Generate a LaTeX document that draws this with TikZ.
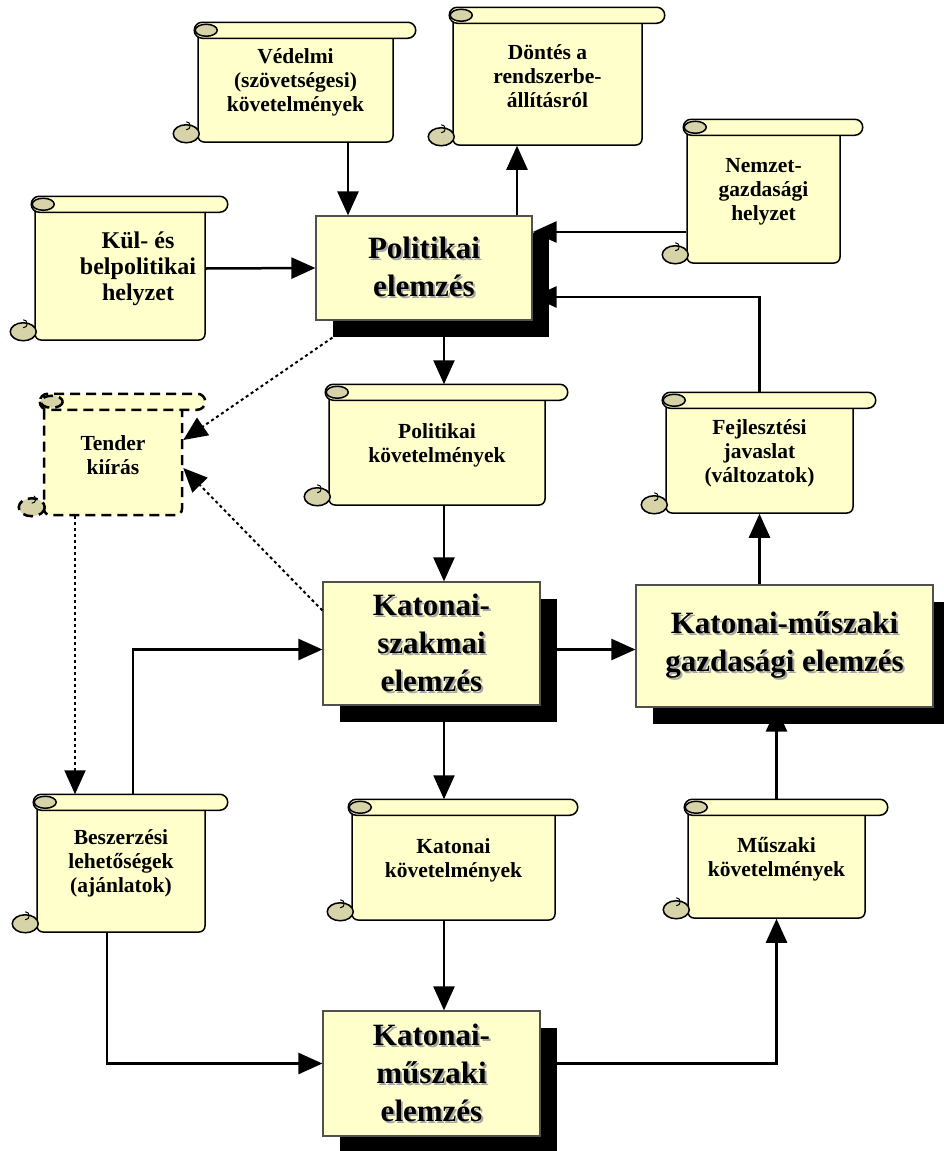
\documentclass[tikz,border=0pt]{standalone}
\usepackage{fontspec}
\setmainfont{Liberation Serif}
\usetikzlibrary{calc}
\usetikzlibrary{arrows.meta}
\usetikzlibrary{shadows}

\definecolor{paper}{RGB}{255,255,204}
\definecolor{curlfill}{RGB}{214,211,168}
\definecolor{boxline}{RGB}{80,80,80}

\tikzset{
	scroll/.style={
		draw=black, line width=1.5pt,
		fill=paper,
		rounded corners=6pt,
		inner sep=0pt, align=center,
		font=\fontsize{21.5}{24}\selectfont\bfseries},
	bigscroll/.style={font=\fontsize{24}{26}\selectfont\bfseries},
	scrollpart/.style={draw=black, line width=1.5pt},
	tenderline/.style={line width=2.5pt, dash pattern=on 10pt off 6pt},
	mainbox/.style={
		draw=boxline, line width=1.2pt,
		fill=paper,
		inner sep=0pt, align=center,
		font=\fontsize{31}{38}\selectfont\bfseries,
		drop shadow={shadow xshift=17pt, shadow yshift=-17pt, fill=black, opacity=1}},
	arr/.style={line width=2.5pt, -{Triangle[length=24pt, width=21pt]}},
	dotarr/.style={line width=2pt, dash pattern=on 3pt off 3pt, -{Triangle[length=24pt, width=21pt]}}
}

% shadowed title text
\newcommand{\shtxt}[1]{\makebox[0pt][l]{\hspace{2pt}\raisebox{-2pt}{\color{gray!70}#1}}#1}

% scroll: [style]{name}{left}{top}{right}{bottom}{text}
\newcommand{\scroll}[7][]{%
	\node[scroll, #1, minimum width={#5-#3}, minimum height={#6-#4}] (#2) at ({(#3+#5)/2},{(#4+#6)/2}) {#7};
	\draw[scrollpart, #1, fill=paper, rounded corners=8pt] ($(#2.north west)+(-3,0)$) rectangle ($(#2.north east)+(22,16)$);
	\draw[scrollpart, #1, fill=curlfill] ($(#2.north west)+(9,8)$) ellipse [x radius=11, y radius=6];
	\draw[scrollpart, #1, fill=curlfill] ($(#2.south west)+(-11,-9)$) ellipse [x radius=13, y radius=9];
	\draw[scrollpart, #1, line width=1pt] ($(#2.south west)+(-11,-13)$) arc [start angle=90, end angle=-90, radius=4];
}

\begin{document}
\begin{tikzpicture}[x=1pt, y=-1pt]
	\useasboundingbox (0,0) rectangle (943,1151);
	
	\coordinate (vedline) at (348,0);
	\coordinate (decline) at (517,0);
	\coordinate (midline) at (444,0);
	
	% analysis boxes
	\node[mainbox, minimum width=216, minimum height=104] (polit) at (424,268) {\shtxt{Politikai}\\\shtxt{elemzés}};
	\node[mainbox, minimum width=217, minimum height=123] (ksz) at (431.5,643.5) {\shtxt{Katonai-}\\\shtxt{szakmai}\\\shtxt{elemzés}};
	\node[mainbox, minimum width=297, minimum height=122] (kmg) at (784.5,646) {\shtxt{Katonai-műszaki}\\\shtxt{gazdasági elemzés}};
	\node[mainbox, minimum width=217, minimum height=125] (km) at (431.5,1073.5) {\shtxt{Katonai-}\\\shtxt{műszaki}\\\shtxt{elemzés}};
	
	% scrolls
	\scroll{vedelmi}{198}{23}{393}{142}{Védelmi\\(szövetségesi)\\követelmények}
	\scroll{dontes}{453}{8}{642}{145}{Döntés a\\rendszerbe-\\állításról}
	\scroll{nemzet}{687}{120}{840}{263}{Nemzet-\\gazdasági\\helyzet}
	\scroll[bigscroll]{kul}{35}{197}{205}{340}{\hspace*{36pt}Kül- és\\\hspace*{36pt}belpolitikai\\\hspace*{36pt}helyzet}
	\scroll[tenderline]{tender}{44}{395}{182}{515}{Tender\\kiírás}
	\scroll{pk}{329}{385}{545}{505}{Politikai\\követelmények}
	\scroll{fejl}{666}{393}{853}{513}{Fejlesztési\\javaslat\\(változatok)}
	\scroll{besz}{37}{795}{205}{932}{Beszerzési\\lehetőségek\\(ajánlatok)}
	\scroll{kk}{352}{800}{555}{920}{Katonai\\követelmények}
	\scroll{musz}{688}{800}{865}{918}{Műszaki\\követelmények}
	
	% connectors
	\draw[arr] (vedelmi.south -| vedline) -- (polit.north -| vedline);
	\draw[arr] (polit.north -| decline) -- (dontes.south -| decline);
	\draw[arr] (kul.east) -- (polit.west);
	\draw[arr] ([yshift=-40.5pt]nemzet.west) -- ([yshift=-40.5pt]nemzet.west -| polit.east);
	\draw[arr] (fejl.north) |- ([yshift=-29pt]polit.east);
	\draw[arr] (polit.south -| midline) -- (pk.north -| midline);
	\draw[arr] (pk.south -| midline) -- (ksz.north -| midline);
	\draw[arr] (ksz.south -| midline) -- (kk.north -| midline);
	\draw[arr] (kk.south -| midline) -- (km.north -| midline);
	\draw[arr] ([xshift=12pt]besz.north) |- ([yshift=-6pt]ksz.west);
	\draw[arr] ([yshift=-6pt]ksz.east) -- ([yshift=-6pt]ksz.east -| kmg.west);
	\draw[arr] (fejl.south |- kmg.north) -- (fejl.south);
	\draw[arr] (musz.north) -- (musz.north |- kmg.south);
	\draw[arr] ([yshift=10pt]km.east) -| (musz.south);
	\draw[arr] ([xshift=-14pt]besz.south) |- ([yshift=10pt]km.west);
	
	\draw[dotarr] ([xshift=17pt, yshift=-17pt]polit.south west) -- ([yshift=15pt]tender.east);
	\draw[dotarr] ([yshift=33pt]ksz.west) -- ([yshift=-13pt]tender.east);
	\draw[dotarr] ([xshift=-38pt]tender.south) -- ([xshift=-38pt]tender.south |- besz.north);
\end{tikzpicture}
\end{document}
